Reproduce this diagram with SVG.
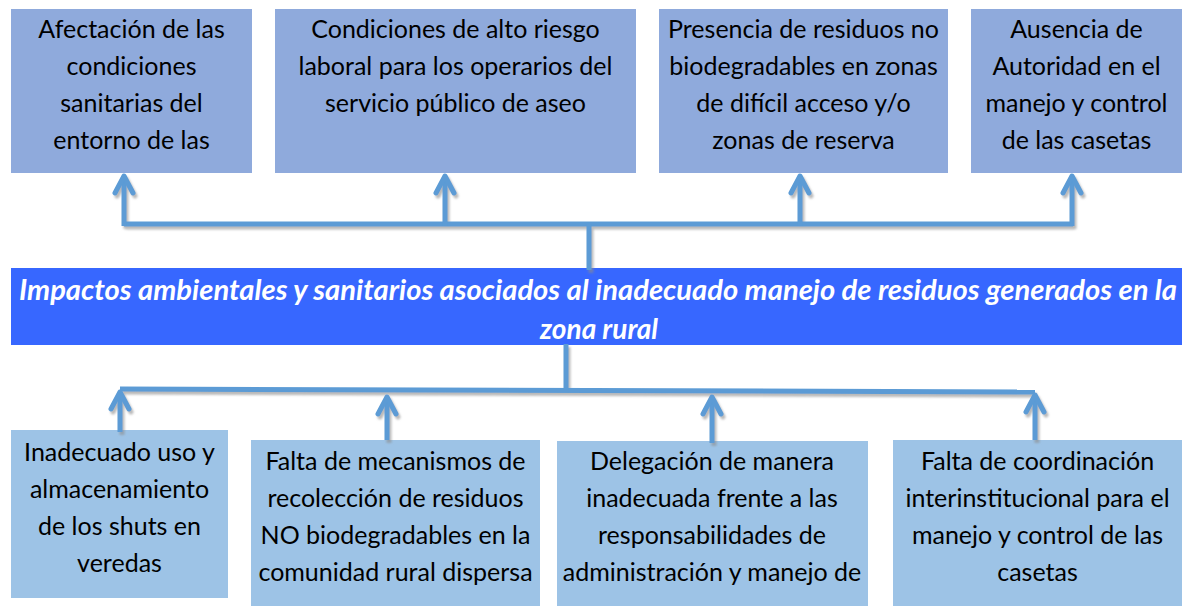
<svg xmlns="http://www.w3.org/2000/svg" width="1182" height="606" viewBox="0 0 1182 606">
<style>
.top{fill:#8FAADC}
.bot{fill:#9DC3E6}
.ban{fill:#3767FF}
.t{font-family:Lato,"Open Sans","DejaVu Sans",sans-serif;font-size:25px;fill:#000;text-anchor:middle}
.bt{font-family:Lato,"Open Sans","DejaVu Sans",sans-serif;font-size:28px;font-weight:bold;font-style:italic;fill:#fff;text-anchor:middle}
.c{fill:none;stroke:#5B9BD5;stroke-width:5}
.a{marker-end:url(#ah)}
</style>
<defs>
<marker id="ah" viewBox="0 0 24 24" markerWidth="24" markerHeight="24" refX="20" refY="12" orient="auto" markerUnits="userSpaceOnUse">
<path d="M3,3 L20,12 L3,21" fill="none" stroke="#5B9BD5" stroke-width="5" stroke-linecap="round" stroke-linejoin="round"/>
</marker>
<filter id="sh" x="-10%" y="-10%" width="120%" height="120%">
<feDropShadow dx="2" dy="3" stdDeviation="1" flood-color="#8c8c8c" flood-opacity="0.6"/>
</filter>
</defs>
<rect width="1182" height="606" fill="#fff"/>

<g id="n1"><rect class="top" x="11" y="9" width="241" height="164"/>
<text class="t" x="131.5" y="38">Afectación de las</text>
<text class="t" x="131.5" y="75">condiciones</text>
<text class="t" x="131.5" y="112">sanitarias del</text>
<text class="t" x="131.5" y="149">entorno de las</text></g>

<g id="n2"><rect class="top" x="275" y="9" width="361" height="164"/>
<text class="t" x="455.5" y="38">Condiciones de alto riesgo</text>
<text class="t" x="455.5" y="75">laboral para los operarios del</text>
<text class="t" x="455.5" y="112">servicio público de aseo</text></g>

<g id="n3"><rect class="top" x="659" y="9" width="289" height="164"/>
<text class="t" x="803.5" y="38">Presencia de residuos no</text>
<text class="t" x="803.5" y="75">biodegradables en zonas</text>
<text class="t" x="803.5" y="112">de difícil acceso y/o</text>
<text class="t" x="803.5" y="149">zonas de reserva</text></g>

<g id="n4"><rect class="top" x="971" y="9" width="211" height="164"/>
<text class="t" x="1076.5" y="38">Ausencia de</text>
<text class="t" x="1076.5" y="75">Autoridad en el</text>
<text class="t" x="1076.5" y="112">manejo y control</text>
<text class="t" x="1076.5" y="149">de las casetas</text></g>

<g id="center"><rect class="ban" x="11" y="268" width="1171" height="77"/>
<text class="bt" x="598" y="300" textLength="1158" lengthAdjust="spacingAndGlyphs">Impactos ambientales y sanitarios asociados al inadecuado manejo de residuos generados en la</text>
<text class="bt" x="599" y="339">zona rural</text></g>

<g id="b1"><rect class="bot" x="11" y="430" width="217" height="168"/>
<text class="t" x="119.5" y="461">Inadecuado uso y</text>
<text class="t" x="119.5" y="498">almacenamiento</text>
<text class="t" x="119.5" y="535">de los shuts en</text>
<text class="t" x="119.5" y="572">veredas</text></g>

<g id="b2"><rect class="bot" x="251" y="440" width="289" height="170"/>
<text class="t" x="395.5" y="470">Falta de mecanismos de</text>
<text class="t" x="395.5" y="507">recolección de residuos</text>
<text class="t" x="395.5" y="544">NO biodegradables en la</text>
<text class="t" x="395.5" y="581">comunidad rural dispersa</text></g>

<g id="b3"><rect class="bot" x="557" y="441" width="311" height="170"/>
<text class="t" x="712" y="470">Delegación de manera</text>
<text class="t" x="712" y="507">inadecuada frente a las</text>
<text class="t" x="712" y="544">responsabilidades de</text>
<text class="t" x="712" y="581">administración y manejo de</text></g>

<g id="b4"><rect class="bot" x="893" y="440" width="289" height="170"/>
<text class="t" x="1037.5" y="470">Falta de coordinación</text>
<text class="t" x="1037.5" y="507">interinstitucional para el</text>
<text class="t" x="1037.5" y="544">manejo y control de las</text>
<text class="t" x="1037.5" y="581">casetas</text></g>

<g id="connectors" filter="url(#sh)">
<line class="c" x1="124" y1="224" x2="1073" y2="224"/>
<line class="c" x1="589" y1="224" x2="589" y2="270"/>
<line class="c a" x1="124" y1="226" x2="124" y2="176"/>
<line class="c a" x1="445" y1="226" x2="445" y2="176"/>
<line class="c a" x1="800" y1="226" x2="800" y2="176"/>
<line class="c a" x1="1072" y1="226" x2="1072" y2="176"/>
<line class="c" x1="120" y1="389" x2="1035" y2="392"/>
<line class="c" x1="566" y1="344" x2="566" y2="390"/>
<line class="c a" x1="120" y1="432" x2="120" y2="392"/>
<line class="c a" x1="387" y1="440" x2="387" y2="397"/>
<line class="c a" x1="712" y1="443" x2="712" y2="397"/>
<line class="c a" x1="1035" y1="440" x2="1035" y2="395"/>
</g>
</svg>
